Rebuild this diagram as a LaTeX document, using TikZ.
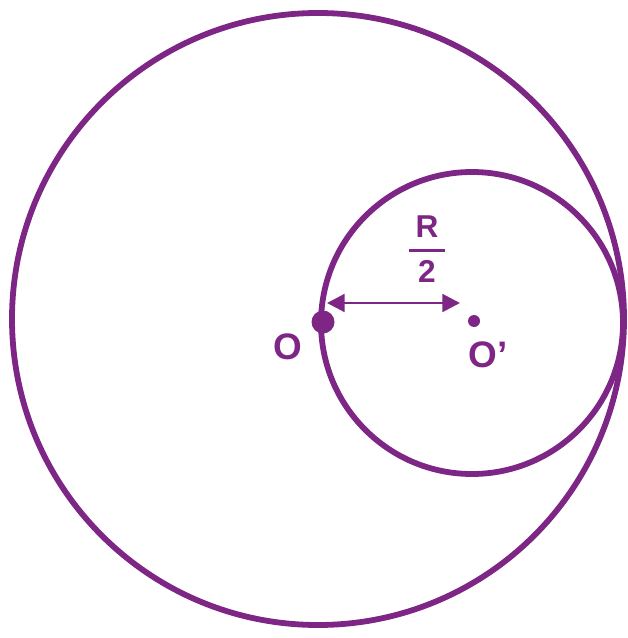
\documentclass[tikz,border=0pt]{standalone}
\usepackage{amsmath}
\usepackage{fontspec}
\setmainfont{Liberation Sans}
\usepackage{xcolor}
\usetikzlibrary{arrows.meta, positioning}
\definecolor{circpurple}{RGB}{125,38,133}

\begin{document}
\begin{tikzpicture}[
    x=0.02cm, y=-0.02cm,
    circ/.style={draw=circpurple, line width=3.3pt},
    lbl/.style={text=circpurple, font=\fontsize{21}{23}\selectfont\bfseries, inner sep=0pt},
    arrow/.style={{Triangle[length=10pt,width=10pt]}-{Triangle[length=10pt,width=10pt]}, draw=circpurple, fill=circpurple, line width=1.7pt}
]
\useasboundingbox (0,0) rectangle (627,638);
% Outer circle (radius R) and inner circle (radius R/2)
\node[coordinate] (cbig) at (318,319) {};
\node[coordinate] (csmall) at (472,323) {};
\draw[circ] (cbig) circle (306);
\draw[circ] (csmall) circle (151);

% Centres
\fill[circpurple] (323,322) circle (11.5) node[coordinate] (o) {};
\fill[circpurple] (474,321) circle (6) node[coordinate] (op) {};
\node[lbl] (olbl) at (288,347) {O};
\node[lbl] (oplbl) at (488,355) {O’};

% Radius of the small circle
\node[coordinate] (aleft) at (327,303) {};
\node[coordinate] (aright) at (460,303) {};
\draw[arrow] (aleft) -- (aright);
\node[text=circpurple, inner sep=0pt, font=\fontsize{18}{20}\selectfont\bfseries] (half) at (427,249)
  {$\genfrac{}{}{1.7pt}{0}{\text{\makebox[20pt]{R}}}{\text{2}}$};
\end{tikzpicture}
\end{document}
